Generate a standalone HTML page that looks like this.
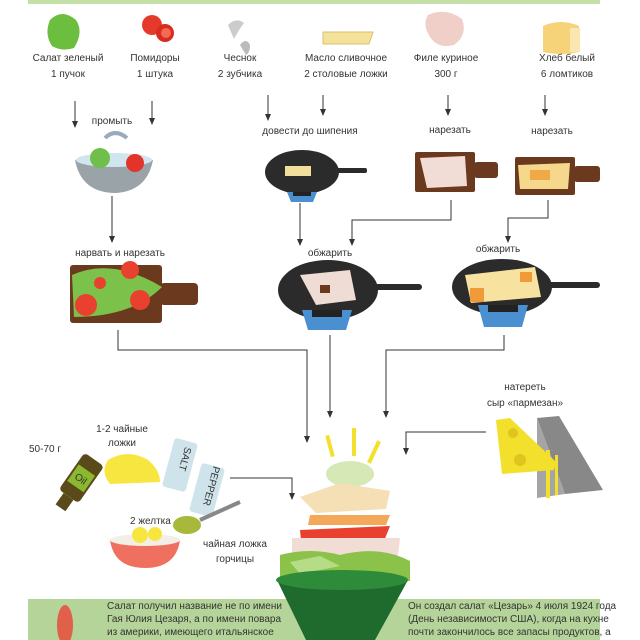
<!DOCTYPE html>
<html><head><meta charset="utf-8"><style>
html,body{margin:0;padding:0;background:#fff}
svg{display:block}
text{font-family:"Liberation Sans",sans-serif;fill:#333;font-size:10px}
</style></head><body>
<svg width="640" height="640" viewBox="0 0 640 640" xmlns="http://www.w3.org/2000/svg">
<defs>
<marker id="a" markerWidth="7" markerHeight="6" refX="6" refY="3" orient="auto" markerUnits="userSpaceOnUse">
<path d="M0,0 L7,3 L0,6 z" fill="#333"/></marker>
</defs>
<rect x="28" y="0" width="572" height="4" fill="#c5dfa8"/>

<path d="M50,20 q12,-12 26,0 q8,12 -2,28 q-12,4 -22,-2 q-8,-12 -2,-26z" fill="#6cbf3e"/>
<circle cx="152" cy="25" r="10" fill="#e53a2a"/><circle cx="165" cy="33" r="9" fill="#d92b20"/><circle cx="166" cy="33" r="5" fill="#f36b55"/>
<path d="M228,25 q8,-8 16,-2 q-6,8 -10,16z" fill="#ccc"/><path d="M240,45 q6,-8 10,0 q0,8 -4,10z" fill="#bbb"/>
<path d="M323,32 l50,0 l-4,12 l-46,0z" fill="#f5e29a" stroke="#d8c070"/>
<path d="M428,15 q18,-8 34,4 q6,16 -8,26 q-16,4 -24,-8 q-8,-12 -2,-22z" fill="#f0cfc8"/>
<path d="M543,26 q18,-8 36,0 l0,26 q-18,4 -36,0z" fill="#f6d278"/><rect x="570" y="28" width="10" height="24" fill="#f9e6b0"/>

<g text-anchor="middle" font-size="10">
<text x="68" y="61">Салат зеленый</text><text x="68" y="77">1 пучок</text>
<text x="155" y="61">Помидоры</text><text x="155" y="77">1 штука</text>
<text x="240" y="61">Чеснок</text><text x="240" y="77">2 зубчика</text>
<text x="346" y="61">Масло сливочное</text><text x="346" y="77">2 столовые ложки</text>
<text x="446" y="61">Филе куриное</text><text x="446" y="77">300 г</text>
<text x="567" y="61">Хлеб белый</text><text x="567" y="77">6 ломтиков</text>
<text x="112" y="124">промыть</text>
<text x="310" y="134">довести до шипения</text>
<text x="450" y="133">нарезать</text>
<text x="552" y="134">нарезать</text>
<text x="120" y="256">нарвать и нарезать</text>
<text x="330" y="256">обжарить</text>
<text x="498" y="252">обжарить</text>
<text x="525" y="390">натереть</text>
<text x="525" y="406">сыр «пармезан»</text>
<text x="122" y="432">1-2 чайные</text><text x="122" y="446">ложки</text>
<text x="45" y="452" font-size="11">50-70 г</text>
<text x="235" y="547">чайная ложка</text><text x="235" y="562">горчицы</text>
</g>

<g stroke="#333" stroke-width="1" fill="none">
<line x1="75" y1="101" x2="75" y2="127" marker-end="url(#a)"/>
<line x1="152" y1="101" x2="152" y2="124" marker-end="url(#a)"/>
<line x1="268" y1="95" x2="268" y2="120" marker-end="url(#a)"/>
<line x1="323" y1="95" x2="323" y2="115" marker-end="url(#a)"/>
<line x1="448" y1="95" x2="448" y2="115" marker-end="url(#a)"/>
<line x1="545" y1="95" x2="545" y2="115" marker-end="url(#a)"/>
<line x1="112" y1="196" x2="112" y2="242" marker-end="url(#a)"/>
<line x1="300" y1="203" x2="300" y2="245" marker-end="url(#a)"/>
<polyline points="451,200 451,220 352,220 352,245" marker-end="url(#a)"/>
<polyline points="548,200 548,218 508,218 508,242" marker-end="url(#a)"/>
<polyline points="118,330 118,350 307,350 307,442" marker-end="url(#a)"/>
<line x1="330" y1="335" x2="330" y2="417" marker-end="url(#a)"/>
<polyline points="504,335 504,350 386,350 386,417" marker-end="url(#a)"/>
<polyline points="486,432 406,432 406,454" marker-end="url(#a)"/>
<polyline points="230,478 292,478 292,499" marker-end="url(#a)"/>
</g>

<path d="M75,160 q39,-8 78,0 q-6,32 -39,33 q-33,-1 -39,-33z" fill="#9aa3a8"/>
<ellipse cx="114" cy="160" rx="38" ry="7" fill="#cfe6ee"/>
<circle cx="100" cy="158" r="10" fill="#6fbf4a"/><circle cx="135" cy="163" r="9" fill="#e3342a"/>
<path d="M105,138 q10,-10 22,0" stroke="#9ab" stroke-width="4" fill="none"/>

<ellipse cx="302" cy="172" rx="37" ry="22" fill="#2b2b2b"/><rect x="335" y="168" width="32" height="5" rx="2" fill="#2b2b2b"/>
<rect x="285" y="166" width="26" height="10" fill="#f1dd9c"/>
<path d="M287,192 h30 l-4,10 h-22z" fill="#4a8fd0"/><rect x="293" y="192" width="18" height="4" fill="#222"/>

<rect x="415" y="152" width="60" height="40" rx="2" fill="#6b3a1e"/><rect x="474" y="162" width="24" height="16" rx="3" fill="#6b3a1e"/>
<path d="M420,158 l45,-2 l2,30 l-40,2z" fill="#f2dcd6"/>
<rect x="515" y="157" width="60" height="38" rx="2" fill="#6b3a1e"/><rect x="574" y="166" width="26" height="16" rx="3" fill="#6b3a1e"/>
<path d="M518,165 l52,-2 l-2,26 l-48,0z" fill="#f6d88c"/><rect x="530" y="170" width="20" height="10" fill="#f0a848"/>

<rect x="70" y="265" width="92" height="58" rx="3" fill="#6b3a1e"/><rect x="160" y="283" width="38" height="22" rx="4" fill="#6b3a1e"/>
<path d="M72,275 q40,-18 90,12 q-30,30 -88,30z" fill="#7cc24a"/>
<circle cx="86" cy="305" r="11" fill="#e8412f"/><circle cx="130" cy="270" r="9" fill="#e8412f"/><circle cx="140" cy="300" r="10" fill="#e8412f"/><circle cx="100" cy="283" r="6" fill="#e8412f"/>

<ellipse cx="328" cy="290" rx="50" ry="30" fill="#2b2b2b"/><rect x="372" y="284" width="50" height="6" rx="3" fill="#2b2b2b"/>
<path d="M300,275 l50,-5 l6,30 l-40,5z" fill="#efdcd4"/><rect x="320" y="285" width="10" height="8" fill="#6b3a1e"/>
<path d="M302,310 h50 l-6,20 h-38z" fill="#4a8fd0"/><rect x="312" y="310" width="30" height="7" fill="#222"/>
<ellipse cx="502" cy="287" rx="50" ry="28" fill="#2b2b2b"/><rect x="546" y="282" width="54" height="6" rx="3" fill="#2b2b2b"/>
<path d="M465,275 l70,-8 l6,30 l-70,6z" fill="#f7e2a0"/><rect x="470" y="288" width="14" height="14" fill="#f09a3a"/><rect x="520" y="272" width="12" height="10" fill="#f09a3a"/>
<path d="M478,305 h50 l-6,22 h-38z" fill="#4a8fd0"/><rect x="488" y="305" width="30" height="7" fill="#222"/>

<path d="M537,418 l22,-2 l44,74 l-38,4z" fill="#888"/><path d="M537,418 l28,76 l-28,4z" fill="#a5a5a5"/>
<path d="M496,420 l14,-2 l46,44 l-2,8 l-52,4z" fill="#f3e02c"/>
<circle cx="513" cy="433" r="5" fill="#e0c51c"/><circle cx="520" cy="460" r="6" fill="#e0c51c"/>
<rect x="546" y="450" width="4" height="48" fill="#f3e02c"/><rect x="555" y="455" width="3" height="40" fill="#f3e02c"/>

<g>
<rect x="328" y="435" width="4" height="22" fill="#f3e02c" transform="rotate(-15 330 446)"/>
<rect x="352" y="428" width="4" height="28" fill="#f3e02c"/>
<rect x="372" y="440" width="4" height="24" fill="#f3e02c" transform="rotate(25 374 452)"/>
<ellipse cx="350" cy="474" rx="24" ry="13" fill="#d6e8b6"/>
<path d="M300,497 l40,-14 l50,8 l-4,18 l-70,4z" fill="#f5dfb4"/>
<path d="M310,515 l80,0 l-4,10 l-78,0z" fill="#f3a85a"/>
<path d="M300,530 l90,-4 l-8,20 l-80,4z" fill="#e8412f"/>
<path d="M292,538 l108,0 l-2,18 l-106,2z" fill="#f2dcd6"/>
<path d="M280,555 q30,-8 60,0 q40,-10 70,6 l0,20 l-130,0z" fill="#8bc34a"/>
<path d="M290,562 l30,-6 l20,10 l-40,8z" fill="#b7dc88"/>
</g>
<rect x="28" y="599" width="572" height="41" fill="#b5d49a"/>
<path d="M277,580 q65,-12 131,0 l-33,60 l-69,0z" fill="#1f6b2e"/>
<ellipse cx="342" cy="580" rx="66" ry="10" fill="#2e8b3a"/>
<ellipse cx="65" cy="625" rx="8" ry="20" fill="#e0604a"/>
<g font-size="8">
<text x="107" y="609">Салат получил название не по имени</text>
<text x="107" y="622">Гая Юлия Цезаря, а по имени повара</text>
<text x="107" y="635">из америки, имеющего итальянское</text>
<text x="408" y="609">Он создал салат «Цезарь» 4 июля 1924 года</text>
<text x="408" y="622">(День независимости США), когда на кухне</text>
<text x="408" y="635">почти закончилось все запасы продуктов, а</text>
</g>

<g transform="rotate(35 80 480)"><rect x="68" y="455" width="24" height="45" rx="4" fill="#5a4a1a"/><rect x="74" y="500" width="12" height="14" fill="#5a4a1a"/><rect x="70" y="468" width="20" height="20" fill="#8bb82e"/>
<text x="80" y="482" font-size="8" fill="#222" text-anchor="middle">Oil</text></g>
<path d="M108,460 q20,-12 40,0 q12,10 12,22 l-50,2 q-10,-12 -2,-24z" fill="#f7e640"/>
<g transform="rotate(15 180 465)"><rect x="168" y="440" width="24" height="50" rx="3" fill="#cfe3ea"/><text x="180" y="458" font-size="9" fill="#333" text-anchor="middle" transform="rotate(90 180 458)">SALT</text></g>
<g transform="rotate(15 207 490)"><rect x="195" y="465" width="24" height="50" rx="3" fill="#cfe3ea"/><text x="207" y="485" font-size="9" fill="#333" text-anchor="middle" transform="rotate(90 207 485)">PEPPER</text></g>
<path d="M200,520 l40,-18" stroke="#888" stroke-width="4"/><ellipse cx="187" cy="525" rx="14" ry="9" fill="#a8b83a"/>
<path d="M110,540 h70 q-4,28 -35,28 q-31,0 -35,-28z" fill="#f07060"/>
<ellipse cx="145" cy="540" rx="35" ry="6" fill="#f4efe6"/>
<circle cx="140" cy="535" r="8" fill="#f7e640"/><circle cx="155" cy="534" r="7" fill="#f7e640"/>
<text x="130" y="524" font-size="7">2 желтка</text>
</svg>
</body></html>
